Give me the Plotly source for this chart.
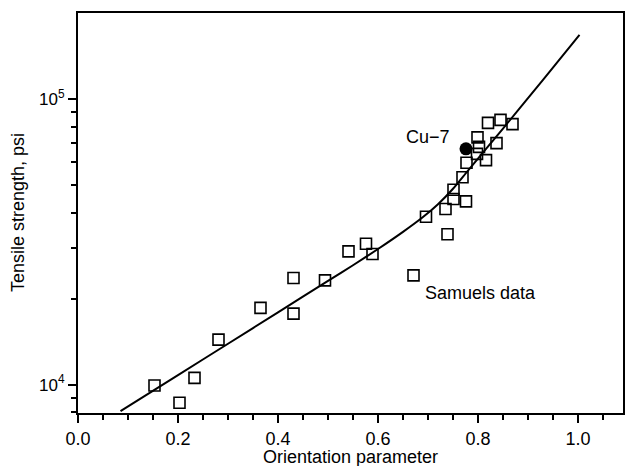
import plotly.graph_objects as go

# Samuels data (open squares)
samuels_x = [0.153, 0.203, 0.233, 0.281, 0.365, 0.431, 0.431, 0.494, 0.541, 0.576,
             0.589, 0.671, 0.696, 0.739, 0.735, 0.751, 0.776, 0.751, 0.769, 0.777,
             0.816, 0.798, 0.802, 0.837, 0.799, 0.820, 0.845, 0.869]
samuels_y = [9920, 8630, 10550, 14370, 18560, 23630, 17730, 23180, 29290, 31150,
             28680, 24130, 38730, 33640, 41210, 44670, 43830, 48140, 53250, 59840,
             61160, 64330, 68080, 70150, 73500, 82610, 84600, 81760]

# Cu-7 (filled circle)
cu7_x = [0.776]
cu7_y = [66990]

# Fitted curve
curve_x = [0.085, 0.20, 0.30, 0.40, 0.50, 0.55, 0.60, 0.65, 0.69, 0.72, 0.75, 0.78,
           0.85, 0.93, 1.003]
curve_y = [8066, 10790, 13900, 17910, 23070, 26180, 29850, 34280, 38640, 42850, 48530,
           56230, 78890, 116950, 167900]

x_ticks = [0.0, 0.2, 0.4, 0.6, 0.8, 1.0]
x_ticklabels = ["0.0", "0.2", "0.4", "0.6", "0.8", "1.0"]
y_ticks = [1e4, 1e5]
y_ticklabels = ["10<sup>4</sup>", "10<sup>5</sup>"]
y_minor = [8000, 9000, 20000, 30000, 40000, 50000, 60000, 70000, 80000, 90000]

FONT = "Liberation Sans"

fig = go.Figure()
fig.add_trace(go.Scatter(x=curve_x, y=curve_y, mode="lines",
                         line=dict(color="black", width=2, shape="spline", smoothing=0.6),
                         showlegend=False, hoverinfo="skip"))
fig.add_trace(go.Scatter(x=samuels_x, y=samuels_y, mode="markers",
                         marker=dict(symbol="square-open", size=11, color="black",
                                     line=dict(width=1.6, color="black")),
                         showlegend=False))
fig.add_trace(go.Scatter(x=cu7_x, y=cu7_y, mode="markers",
                         marker=dict(symbol="circle", size=13, color="black"),
                         showlegend=False))

fig.add_annotation(x=0.70, y=4.869, xref="x", yref="y", text="Cu−7", showarrow=False,
                   font=dict(family=FONT, size=18, color="black"))
fig.add_annotation(x=0.804, y=4.321, xref="x", yref="y", text="Samuels data", showarrow=False,
                   font=dict(family=FONT, size=18, color="black"))

# axis titles
fig.add_annotation(x=0.5, y=-0.11, xref="paper", yref="paper", text="Orientation parameter",
                   showarrow=False, xanchor="center", yanchor="middle",
                   font=dict(family=FONT, size=18, color="black"))
fig.add_annotation(x=-0.110, y=0.5, xref="paper", yref="paper", text="Tensile strength, psi",
                   showarrow=False, xanchor="center", yanchor="middle", textangle=-90,
                   font=dict(family=FONT, size=18, color="black"))

fig.update_layout(
    width=625, height=466,
    margin=dict(l=78, r=2, t=13, b=53),
    paper_bgcolor="white", plot_bgcolor="white",
    font=dict(family=FONT, size=18, color="black"),
    xaxis=dict(range=[0, 1.09], tickmode="array", tickvals=x_ticks, ticktext=x_ticklabels,
               ticks="outside", ticklen=8, tickwidth=1.5, tickcolor="black",
               showline=True, linecolor="black", linewidth=2, mirror=True,
               showgrid=False, zeroline=False, automargin=False,
               minor=dict(dtick=0.05, tick0=0, ticks="outside", ticklen=5,
                          tickwidth=1.5, tickcolor="black", showgrid=False),
               tickfont=dict(family=FONT, size=18)),
    yaxis=dict(type="log", range=[3.9003, 5.302], tickmode="array", tickvals=y_ticks,
               ticktext=y_ticklabels,
               ticks="outside", ticklen=8, tickwidth=1.5, tickcolor="black",
               showline=True, linecolor="black", linewidth=2, mirror=True,
               showgrid=False, zeroline=False, automargin=False,
               minor=dict(tickmode="array", tickvals=y_minor, ticks="outside", ticklen=5,
                          tickwidth=1.5, tickcolor="black", showgrid=False),
               tickfont=dict(family=FONT, size=17)),
)

fig.write_html("out.html", config={"displayModeBar": False},
               post_script="document.body.style.margin='0';")
